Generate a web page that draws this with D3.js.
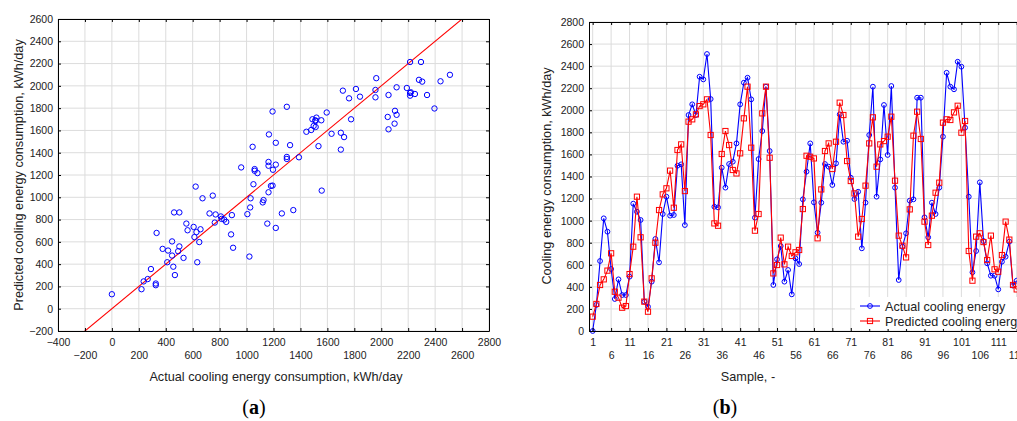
<!DOCTYPE html>
<html>
<head>
<meta charset="utf-8">
<script src="https://cdn.jsdelivr.net/npm/d3@7"></script>
<style>
  body { margin: 0; background: #fff; }
  svg { display: block; font-family: "Liberation Sans", Arial, sans-serif; }
</style>
</head>
<body>
<svg id="chart" width="1017" height="421"></svg>
<script>
// measured and predicted daily cooling energy, kWh/day, sample 1..116
var actual = [0, 236, 634, 1021, 900, 562, 290, 468, 326, 326,
  492, 1154, 1081, 1006, 266, 220, 447, 834, 622, 1060,
  1217, 1045, 1051, 1498, 1510, 960, 1957, 2054, 1957, 2304,
  2280, 2510, 2102, 1126, 1120, 1480, 1299, 1513, 1534, 1700,
  2054, 2250, 2295, 2099, 1027, 1558, 1812, 2214, 1631, 417,
  649, 770, 447, 553, 332, 658, 607, 1193, 1444, 1700,
  1166, 891, 1163, 1513, 1489, 1323, 1519, 1963, 1715, 1724,
  1389, 1196, 1262, 749, 1163, 1776, 2214, 1217, 1555, 2048,
  1595, 2220, 1299, 462, 764, 885, 1181, 1193, 2114, 2114,
  1030, 849, 1163, 1060, 1299, 1761, 2340, 2214, 2190, 2440,
  2395, 1842, 1217, 532, 725, 1347, 815, 613, 501, 501,
  377, 628, 673, 809, 411, 456];
var predicted = [130, 245, 417, 468, 547, 704, 356, 302, 211, 226,
  516, 764, 1217, 849, 266, 175, 477, 800, 1096, 1238,
  1293, 1453, 1117, 1640, 1691, 1268, 1897, 1918, 1963, 2038,
  2054, 2099, 1776, 975, 954, 1604, 1812, 1685, 1459, 1428,
  1610, 1927, 2214, 1661, 909, 1060, 1972, 2214, 1570, 522,
  598, 846, 604, 764, 680, 713, 734, 1105, 1588, 1579,
  1564, 840, 1283, 1631, 1700, 1468, 1715, 2069, 1957, 1540,
  1359, 1247, 855, 1015, 1317, 1700, 1936, 1489, 1691, 1721,
  1761, 1942, 1362, 864, 773, 667, 1102, 1770, 1987, 1740,
  991, 779, 1045, 1253, 1344, 1888, 1918, 1912, 1981, 2041,
  1797, 1903, 725, 456, 855, 885, 806, 643, 864, 559,
  537, 688, 991, 828, 417, 377];

var scatterXTicks = d3.range(-400, 2801, 200);
var scatterYTicks = d3.range(-200, 2601, 200);
var seriesXTicks = d3.range(1, 122, 5);
var seriesYTicks = d3.range(0, 2801, 200);
var legendNames = ["Actual cooling energy", "Predicted cooling energy"];

var BLUE = "#0000ff", RED = "#ff0000", GRID = "#dcdcdc";
var fmt = d3.format("d");
var svg = d3.select("#chart");

function styleAxis(g) {
  g.attr("font-family", "Liberation Sans, Arial, sans-serif")
   .attr("font-size", 10.5);
  g.selectAll("text").attr("fill", "#222");
  g.selectAll("line").attr("stroke", "#000");
  g.select(".domain").attr("stroke", "#000");
}

// ---------- (a) scatter ----------
var xL = d3.scaleLinear().domain([-400, 2800]).range([58, 489]);
var yL = d3.scaleLinear().domain([-200, 2600]).range([331, 19]);
var gL = svg.append("g");

gL.append("defs").append("clipPath").attr("id", "clipL")
  .append("rect")
  .attr("x", 58).attr("y", 19).attr("width", 431).attr("height", 312);

// grid
gL.append("g").selectAll("line").data(scatterXTicks).join("line")
  .attr("x1", d => xL(d)).attr("x2", d => xL(d))
  .attr("y1", 19).attr("y2", 331)
  .style("stroke", GRID);
gL.append("g").selectAll("line").data(scatterYTicks).join("line")
  .attr("x1", 58).attr("x2", 489)
  .attr("y1", d => yL(d)).attr("y2", d => yL(d))
  .style("stroke", GRID);

// y = x reference line
gL.append("line")
  .attr("clip-path", "url(#clipL)")
  .attr("x1", xL(-400)).attr("y1", yL(-400))
  .attr("x2", xL(2800)).attr("y2", yL(2800))
  .style("stroke", RED).style("stroke-width", 1.1);

gL.append("g").attr("clip-path", "url(#clipL)")
  .selectAll("circle").data(actual).join("circle")
  .attr("cx", d => xL(d))
  .attr("cy", (d, i) => yL(predicted[i]))
  .attr("r", 2.7)
  .style("fill", "none").style("stroke", BLUE).style("stroke-width", 1);

// axes
var axBL = gL.append("g").attr("transform", "translate(0,331)")
  .call(d3.axisBottom(xL).tickValues(scatterXTicks).tickFormat(fmt)
    .tickSize(-3).tickSizeOuter(0).tickPadding(8));
axBL.selectAll(".tick text").filter((d, i) => i % 2 == 1).attr("y", 20.5);
styleAxis(axBL);
var axLL = gL.append("g").attr("transform", "translate(58,0)")
  .call(d3.axisLeft(yL).tickValues(scatterYTicks).tickFormat(fmt)
    .tickSize(-3).tickSizeOuter(0).tickPadding(5));
styleAxis(axLL);
var axTL = gL.append("g").attr("transform", "translate(0,19)")
  .call(d3.axisTop(xL).tickValues(scatterXTicks).tickSize(-3).tickSizeOuter(0).tickFormat(""));
styleAxis(axTL);
var axRL = gL.append("g").attr("transform", "translate(489,0)")
  .call(d3.axisRight(yL).tickValues(scatterYTicks).tickSize(-3).tickSizeOuter(0).tickFormat(""));
styleAxis(axRL);

gL.append("text").attr("x", 276).attr("y", 381)
  .attr("text-anchor", "middle").attr("font-size", 12.7).attr("fill", "#222")
  .text("Actual cooling energy consumption, kWh/day");
gL.append("text").attr("transform", "translate(23,175) rotate(-90)")
  .attr("text-anchor", "middle").attr("font-size", 12.7).attr("fill", "#222")
  .text("Predicted cooling energy consumption, kWh/day");

var labA = gL.append("text").attr("x", 254).attr("y", 414)
  .attr("text-anchor", "middle").attr("font-family", "Liberation Serif, serif")
  .attr("font-size", 20).attr("fill", "#000");
labA.append("tspan").text("(");
labA.append("tspan").attr("font-weight", "bold").text("a");
labA.append("tspan").text(")");

// ---------- (b) time series ----------
var xR = d3.scaleLinear().domain([0, 121]).range([589, 589 + 121 * 3.687]);
var yR = d3.scaleLinear().domain([0, 2800]).range([331, 22]);
var gR = svg.append("g");
var xEnd = 1017;

gR.append("g").selectAll("line").data(seriesXTicks).join("line")
  .attr("x1", d => xR(d)).attr("x2", d => xR(d))
  .attr("y1", 22).attr("y2", 331)
  .style("stroke", GRID);
gR.append("g").selectAll("line").data(seriesYTicks).join("line")
  .attr("x1", 589).attr("x2", xEnd)
  .attr("y1", d => yR(d)).attr("y2", d => yR(d))
  .style("stroke", GRID);

var line = d3.line().x((d, i) => xR(i + 1)).y(d => yR(d));

gR.append("path").datum(actual)
  .attr("d", line)
  .style("fill", "none").style("stroke", BLUE).style("stroke-width", 1.1);
gR.append("g").selectAll("circle").data(actual).join("circle")
  .attr("cx", (d, i) => xR(i + 1)).attr("cy", d => yR(d)).attr("r", 2.4)
  .style("fill", "none").style("stroke", BLUE).style("stroke-width", 1);

gR.append("path").datum(predicted)
  .attr("d", line)
  .style("fill", "none").style("stroke", RED).style("stroke-width", 1.1);
gR.append("g").selectAll("rect").data(predicted).join("rect")
  .attr("x", (d, i) => xR(i + 1) - 2.6).attr("y", d => yR(d) - 2.6)
  .attr("width", 5.2).attr("height", 5.2)
  .style("fill", "none").style("stroke", RED).style("stroke-width", 1);

var axBR = gR.append("g").attr("transform", "translate(0,331)")
  .call(d3.axisBottom(xR).tickValues(seriesXTicks).tickFormat(fmt)
    .tickSize(-3).tickSizeOuter(0).tickPadding(8));
axBR.selectAll(".tick text").filter((d, i) => i % 2 == 1).attr("y", 20.5);
styleAxis(axBR);
var axLR = gR.append("g").attr("transform", "translate(589,0)")
  .call(d3.axisLeft(yR).tickValues(seriesYTicks).tickFormat(fmt)
    .tickSize(-3).tickSizeOuter(0).tickPadding(5));
styleAxis(axLR);
var axTR = gR.append("g").attr("transform", "translate(0,22)")
  .call(d3.axisTop(xR).tickValues(seriesXTicks).tickSize(-3).tickSizeOuter(0).tickFormat(""));
styleAxis(axTR);

gR.append("text").attr("x", 748).attr("y", 381)
  .attr("text-anchor", "middle").attr("font-size", 12.7).attr("fill", "#222")
  .text("Sample, -");
gR.append("text").attr("transform", "translate(551,176) rotate(-90)")
  .attr("text-anchor", "middle").attr("font-size", 12.7).attr("fill", "#222")
  .text("Cooling energy consumption, kWh/day");

// legend
var lg = gR.append("g");
lg.append("rect").attr("x", 855).attr("y", 297).attr("width", 170).attr("height", 32)
  .style("fill", "#fff");
lg.append("line").attr("x1", 860).attr("x2", 880).attr("y1", 306).attr("y2", 306)
  .style("stroke", BLUE).style("stroke-width", 1.1);
lg.append("circle").attr("cx", 870).attr("cy", 306).attr("r", 2.4)
  .style("fill", "none").style("stroke", BLUE);
lg.append("line").attr("x1", 860).attr("x2", 880).attr("y1", 321).attr("y2", 321)
  .style("stroke", RED).style("stroke-width", 1.1);
lg.append("rect").attr("x", 867.4).attr("y", 318.4).attr("width", 5.2).attr("height", 5.2)
  .style("fill", "none").style("stroke", RED);
lg.selectAll("text").data(legendNames).join("text")
  .attr("x", 885).attr("y", (d, i) => 310.5 + i * 15)
  .attr("font-size", 12.6).attr("fill", "#222")
  .text(d => d);

var labB = gR.append("text").attr("x", 725).attr("y", 414)
  .attr("text-anchor", "middle").attr("font-family", "Liberation Serif, serif")
  .attr("font-size", 20).attr("fill", "#000");
labB.append("tspan").text("(");
labB.append("tspan").attr("font-weight", "bold").text("b");
labB.append("tspan").text(")");
</script>
</body>
</html>
